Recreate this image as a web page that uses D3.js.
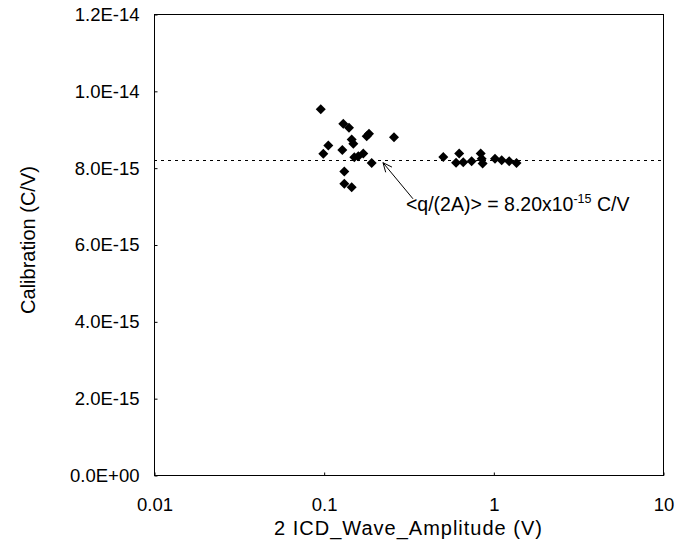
<!DOCTYPE html>
<html>
<head>
<meta charset="utf-8">
<script src="https://cdn.jsdelivr.net/npm/d3@7"></script>
<style>
  body { margin: 0; background: #fff; }
  svg { display: block; font-family: "Liberation Sans", Arial, sans-serif; }
</style>
</head>
<body>
<div id="chart"></div>
<script>
let width = 694;
let height = 545;

// measured points: 2*ICD wave amplitude (V) vs calibration (C/V)
const amplitude = [0.0961, 0.1305, 0.141, 0.1065, 0.0995, 0.1288, 0.1463, 0.1495, 0.1793, 0.185,
  0.2598, 0.1516, 0.16, 0.1712, 0.1919, 0.1323, 0.1323, 0.1463,
  0.507, 0.629, 0.603, 0.665, 0.745, 0.842, 0.854, 0.865, 1.023, 1.12, 1.24, 1.37];
const calibration = [9.52e-15, 9.14e-15, 9.04e-15, 8.58e-15, 8.36e-15, 8.46e-15, 8.73e-15, 8.62e-15, 8.82e-15, 8.88e-15,
  8.79e-15, 8.27e-15, 8.30e-15, 8.37e-15, 8.12e-15, 7.90e-15, 7.58e-15, 7.49e-15,
  8.28e-15, 8.37e-15, 8.13e-15, 8.14e-15, 8.17e-15, 8.37e-15, 8.23e-15, 8.11e-15, 8.23e-15, 8.19e-15, 8.17e-15, 8.12e-15];

const meanCal = 8.20e-15;

const xTicks = [0.01, 0.1, 1, 10];
const xTickLabels = ["0.01", "0.1", "1", "10"];
const yTicks = [0, 2e-15, 4e-15, 6e-15, 8e-15, 1e-14, 1.2e-14];
const yTickLabels = ["0.0E+00", "2.0E-15", "4.0E-15", "6.0E-15", "8.0E-15", "1.0E-14", "1.2E-14"];

// annotation anchor points (data coords): text, arrow tail, arrow head
const noteAt = [0.3055, 6.88e-15];
const arrowFrom = [0.336, 7.19e-15];
const arrowTo = [0.2237, 8.13e-15];

const margin = {top: 14, right: 31, bottom: 70, left: 154};

const x = d3.scaleLog().domain([0.01, 10]).range([margin.left, width - margin.right]);
const y = d3.scaleLinear().domain([0, 1.2e-14]).range([height - margin.bottom, margin.top]);

const svg = d3.select("#chart").append("svg")
  .attr("width", width)
  .attr("height", height)
  .style("font-size", "20px");

// frame
svg.append("rect")
  .attr("x", x(0.01) + 0.5)
  .attr("y", y(1.2e-14) + 0.5)
  .attr("width", x(10) - x(0.01))
  .attr("height", y(0) - y(1.2e-14))
  .attr("fill", "none")
  .attr("stroke", "#000")
  .attr("stroke-width", 1);

// axes
const xAxis = d3.axisBottom(x)
  .tickValues(xTicks)
  .tickFormat((d, i) => xTickLabels[i])
  .tickSizeInner(-3).tickSizeOuter(0).tickPadding(22);

svg.append("g")
  .attr("transform", `translate(0.5,${y(0) + 0.5})`)
  .call(xAxis)
  .call(g => g.select(".domain").remove())
  .call(g => g.selectAll("text").attr("font-size", 18.5).attr("font-family", null).attr("fill", "#000"));

const yAxis = d3.axisLeft(y)
  .tickValues(yTicks)
  .tickFormat((d, i) => yTickLabels[i])
  .tickSizeInner(-3).tickSizeOuter(0).tickPadding(15);

svg.append("g")
  .attr("transform", `translate(${x(0.01) + 0.5},0.5)`)
  .call(yAxis)
  .call(g => g.select(".domain").remove())
  .call(g => g.selectAll("text").attr("font-size", 18.5).attr("font-family", null).attr("fill", "#000"));

// axis titles
svg.append("text")
  .attr("x", (x(0.01) + x(10)) / 2)
  .attr("y", 535)
  .attr("text-anchor", "middle")
  .attr("letter-spacing", 1)
  .text("2 ICD_Wave_Amplitude (V)");

svg.append("text")
  .attr("transform", `translate(35,240) rotate(-90)`)
  .attr("text-anchor", "middle")
  .text("Calibration (C/V)");

// mean line
svg.append("line")
  .attr("x1", x(0.01)).attr("x2", x(10))
  .attr("y1", Math.round(y(meanCal)) + 0.5).attr("y2", Math.round(y(meanCal)) + 0.5)
  .attr("stroke", "#000")
  .attr("stroke-width", 1)
  .attr("stroke-dasharray", "3,4");

// points
const pts = amplitude.map((a, i) => ({a: a, c: calibration[i]}));
svg.append("g").selectAll("path")
  .data(pts)
  .join("path")
  .attr("d", d3.symbol().type(d3.symbolSquare).size(50))
  .attr("transform", d => `translate(${x(d.a)},${y(d.c)}) rotate(45)`)
  .attr("fill", "#000");

// annotation
const x1 = x(arrowFrom[0]), y1 = y(arrowFrom[1]);
const x2 = x(arrowTo[0]), y2 = y(arrowTo[1]);
svg.append("line")
  .attr("x1", x1).attr("y1", y1).attr("x2", x2).attr("y2", y2)
  .attr("stroke", "#000").attr("stroke-width", 1);
const ang = Math.atan2(y1 - y2, x1 - x2);
const head = [ang - 0.42, ang + 0.42].map(a => [x2 + 10 * Math.cos(a), y2 + 10 * Math.sin(a)]);
svg.append("path")
  .attr("d", `M${head[0][0]},${head[0][1]}L${x2},${y2}L${head[1][0]},${head[1][1]}`)
  .attr("fill", "none").attr("stroke", "#000").attr("stroke-width", 1);

const label = svg.append("text")
  .attr("x", x(noteAt[0]))
  .attr("y", y(noteAt[1]))
  .attr("font-size", 19.5);
label.append("tspan").text("<q/(2A)> = 8.20x10");
label.append("tspan").attr("dy", -8).attr("font-size", 12.5).text("-15");
label.append("tspan").attr("dy", 8).text(" C/V");
</script>
</body>
</html>
